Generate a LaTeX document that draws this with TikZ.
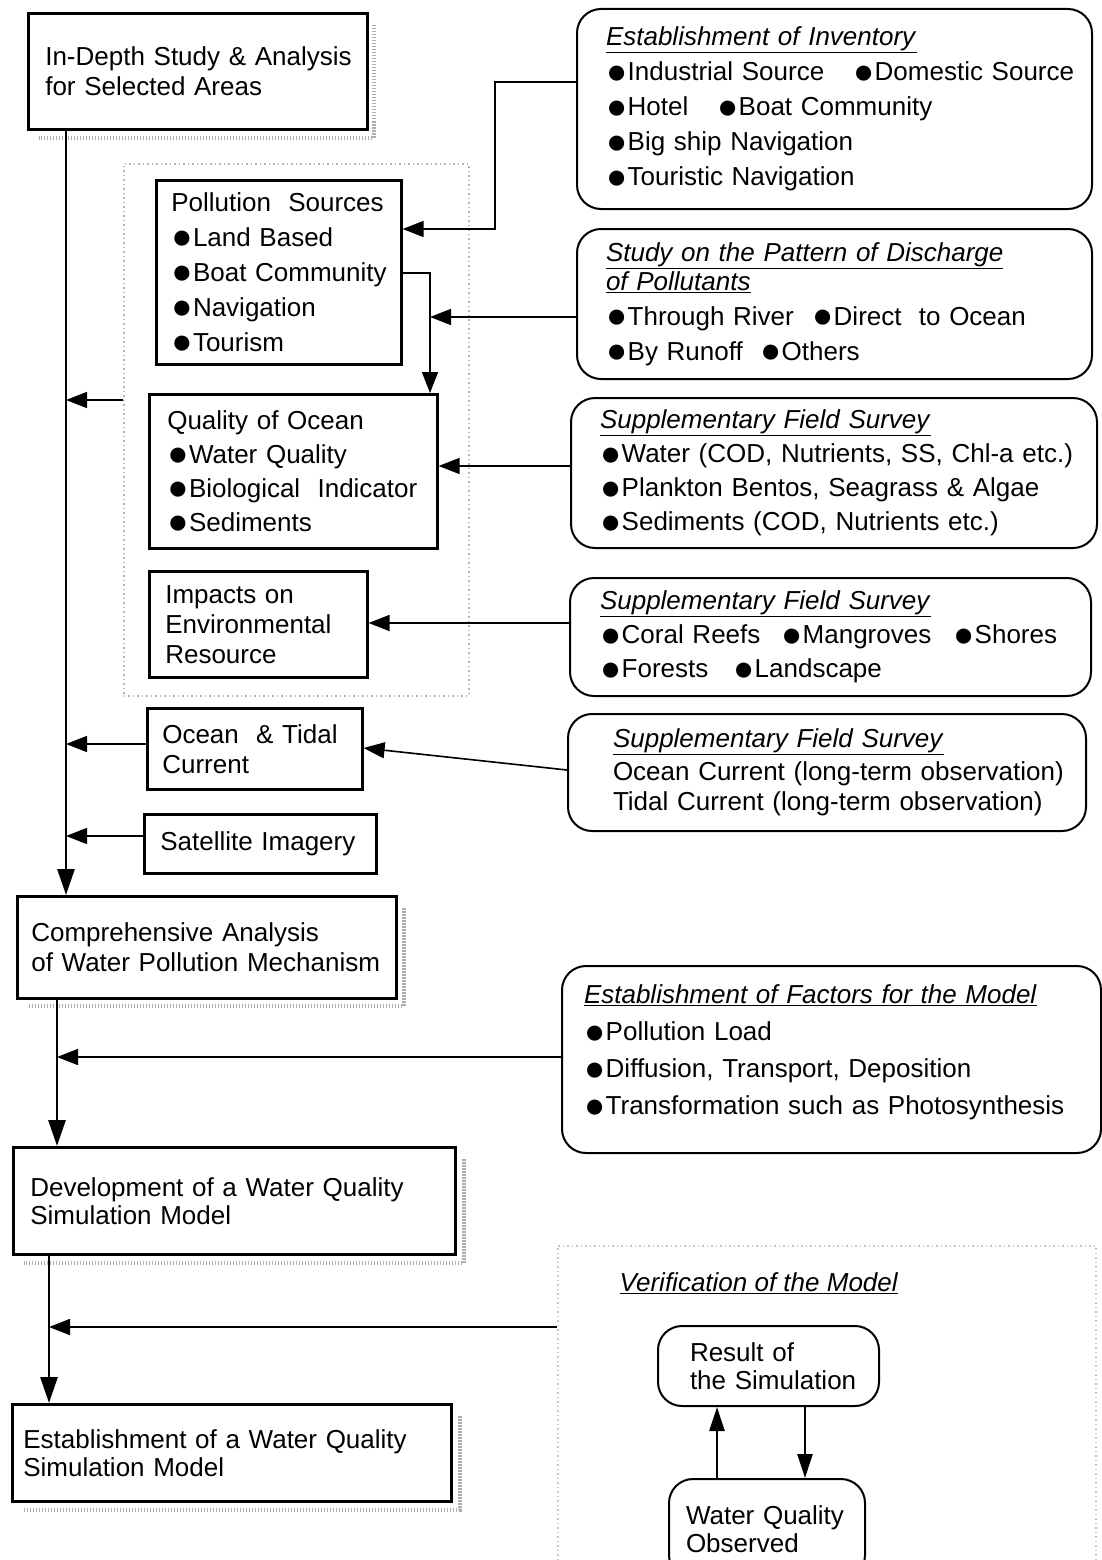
\documentclass[tikz,border=0pt]{standalone}
\usepackage{fontspec}
\setmainfont{Liberation Sans}
\usetikzlibrary{arrows.meta,calc}
\newcommand{\fsz}[1]{\fontsize{26}{#1}\selectfont}
\newcommand{\bu}{\smash{\raisebox{-0.09em}{\scalebox{1.35}{●}}}\kern0.5pt}
\newcommand{\ttl}[1]{\underline{\textit{#1}}}
\newcommand{\rw}[1]{\mbox{#1}}
\tikzset{
  sq/.style={draw, line width=2.6pt, anchor=north west, align=left, inner ysep=0pt},
  rd/.style={draw, line width=2pt, rounded corners=24pt, anchor=north west, align=left, inner ysep=0pt},
  conn/.style={line width=1.6pt},
  arr/.style={conn, -{Triangle[length=21pt,width=16pt]}},
  mainarr/.style={line width=2.8pt, -{Triangle[length=26pt,width=17pt]}},
  varr/.style={line width=2.4pt, -{Triangle[length=24pt,width=15pt]}},
  shadowstrip/.style={draw=gray!65, line width=4pt, dash pattern=on 1.5pt off 1.5pt},
  grpbox/.style={draw=gray!60, line width=1.6pt, dash pattern=on 1.5pt off 3pt, anchor=north west, inner sep=0pt},
}
\begin{document}
\begin{tikzpicture}[x=1pt,y=-1pt]
\useasboundingbox (0,0) rectangle (1102,1560);

% dotted grouping regions
\node[grpbox, minimum width=345pt, minimum height=532pt] (grp) at (123,163) {};
\node[grpbox, draw=gray!45, minimum width=538pt, minimum height=330pt] (vreg) at (557,1245) {};

% left column boxes
\node[sq, inner xsep=17pt, text width=305pt, minimum height=116pt, font=\fsz{30}] (indepth) at (27,12)
  {\rw{In-Depth Study \& Analysis}\\\rw{for Selected Areas}};
\node[sq, inner xsep=15pt, text width=215pt, minimum height=184pt, font=\fsz{35}] (poll) at (155,179)
  {\rw{Pollution~~Sources}\\\rw{\bu Land Based}\\\rw{\bu Boat Community}\\\rw{\bu Navigation}\\\rw{\bu Tourism}};
\node[sq, inner xsep=18pt, text width=252pt, minimum height=154pt, font=\fsz{34}] (qual) at (148,393)
  {\rw{Quality of Ocean}\\\rw{\bu Water Quality}\\\rw{\bu Biological~~Indicator}\\\rw{\bu Sediments}};
\node[sq, inner xsep=16pt, text width=186pt, minimum height=106pt, font=\fsz{30}] (imp) at (148,570)
  {\rw{Impacts on}\\\rw{Environmental}\\\rw{Resource}};
\node[sq, inner xsep=15pt, text width=185pt, minimum height=81pt, font=\fsz{30}] (ocean) at (146,707)
  {\rw{Ocean~~\& Tidal}\\\rw{Current}};
\node[sq, inner xsep=16pt, text width=200pt, minimum height=59pt, font=\fsz{30}] (sat) at (143,813)
  {\rw{Satellite Imagery}};
\node[sq, inner xsep=14pt, text width=351pt, minimum height=102pt, font=\fsz{30}] (comp) at (16,895)
  {\rw{Comprehensive Analysis}\\\rw{of Water Pollution Mechanism}};
\node[sq, inner xsep=17pt, text width=408pt, minimum height=107pt, font=\fsz{28}] (dev) at (12,1146)
  {\rw{Development of a Water Quality}\\\rw{Simulation Model}};
\node[sq, inner xsep=11pt, text width=417pt, minimum height=97pt, font=\fsz{28}] (est) at (11,1403)
  {\rw{Establishment of a Water Quality}\\\rw{Simulation Model}};

% shadows
\foreach \b/\dx/\dy in {indepth/5/7, comp/6/6, dev/7/7, est/7/7}{
  \draw[shadowstrip] ($(\b.north east)+(\dx,13)$) -- ($(\b.south east)+(\dx,\dy)$) -- ($(\b.south west)+(12,\dy)$);
}

% right column rounded boxes
\node[rd, inner xsep=29pt, text width=457pt, minimum height=200pt, font=\fsz{35}] (inv) at (576,8)
  {\ttl{Establishment of Inventory}\\
   \rw{\makebox[247pt][l]{\bu Industrial Source}\bu Domestic Source}\\
   \rw{\makebox[111pt][l]{\bu Hotel}\bu Boat Community}\\
   \rw{\bu Big ship Navigation}\\
   \rw{\bu Touristic Navigation}};
\node[rd, inner xsep=29pt, text width=457pt, minimum height=150pt, font=\fsz{35}] (disch) at (576,228)
  {\ttl{Study on the Pattern of Discharge}\\[-6pt]
   \ttl{of Pollutants}\\
   \rw{\makebox[206pt][l]{\bu Through River}\bu Direct~~to Ocean}\\
   \rw{\makebox[154pt][l]{\bu By Runoff}\bu Others}};
\node[rd, inner xsep=29pt, text width=468pt, minimum height=150pt, font=\fsz{34}] (fs1) at (570,397)
  {\ttl{Supplementary Field Survey}\\
   \rw{\bu Water (COD, Nutrients, SS, Chl-a etc.)}\\
   \rw{\bu Plankton Bentos, Seagrass \& Algae}\\
   \rw{\bu Sediments (COD, Nutrients etc.)}};
\node[rd, inner xsep=30pt, text width=461pt, minimum height=118pt, font=\fsz{34}] (fs2) at (569,577)
  {\ttl{Supplementary Field Survey}\\
   \rw{\makebox[181pt][l]{\bu Coral Reefs}\makebox[172pt][l]{\bu Mangroves}\bu Shores}\\
   \rw{\makebox[133pt][l]{\bu Forests}\bu Landscape}};
\node[rd, inner xsep=45pt, text width=428pt, minimum height=117pt, font=\fsz{30}] (fs3) at (567,713)
  {\ttl{Supplementary Field Survey}\\[3pt]
   \rw{Ocean Current (long-term observation)}\\
   \rw{Tidal Current (long-term observation)}};
\node[rd, inner xsep=22pt, text width=495pt, minimum height=187pt, font=\fsz{37}] (fac) at (561,965)
  {\ttl{Establishment of Factors for the Model}\\
   \rw{\bu Pollution Load}\\
   \rw{\bu Diffusion, Transport, Deposition}\\
   \rw{\bu Transformation such as Photosynthesis}\\[-18pt]\mbox{}};

% verification
\node[font=\fsz{30}, inner sep=0pt] (vt) at (759,1283) {\ttl{Verification of the Model}};
\node[rd, inner xsep=32pt, text width=157pt, minimum height=80pt, font=\fsz{28}] (res) at (657,1325)
  {\rw{Result of}\\\rw{the Simulation}};
\node[rd, inner xsep=17pt, text width=162pt, minimum height=100pt, font=\fsz{28}] (wq) at (668,1478)
  {\rw{Water Quality}\\\rw{Observed}};

% coordinates for main lines
\coordinate (mx) at (66,0);
\coordinate (m2) at (57,0);
\coordinate (m3) at (49,0);
\coordinate (jd) at (430,317);

% main flow
\draw[mainarr] (indepth.south -| mx) -- (comp.north -| mx);
\draw[mainarr] (comp.south -| m2) -- (dev.north -| m2);
\draw[mainarr] (dev.south -| m3) -- (est.north -| m3);

% feeders into the main line
\draw[arr] (grp.west |- 0,400) -- (mx |- 0,400);
\draw[arr] (ocean.west |- 0,744) -- (mx |- 0,744);
\draw[arr] (sat.west |- 0,836) -- (mx |- 0,836);
\draw[arr] (fac.west |- 0,1057) -- (m2 |- 0,1057);
\draw[arr] (vreg.west |- 0,1327) -- (m3 |- 0,1327);

% right side inputs
\draw[arr] (inv.west |- 0,82) -| (495,229) -- (poll.east |- 0,229);
\draw[arr] (poll.east |- 0,273) -| (qual.north -| 430,0);
\draw[arr] (disch.west |- 0,317) -- (jd);
\draw[arr] (fs1.west |- 0,466) -- (qual.east |- 0,466);
\draw[arr] (fs2.west |- 0,623) -- (imp.east |- 0,623);
\draw[arr] (fs3.west |- 0,770) -- (ocean.east |- 0,748);

% verification loop
\draw[varr] (wq.north -| 717,0) -- (res.south -| 717,0);
\draw[varr] (res.south -| 805,0) -- (wq.north -| 805,0);
\end{tikzpicture}
\end{document}
